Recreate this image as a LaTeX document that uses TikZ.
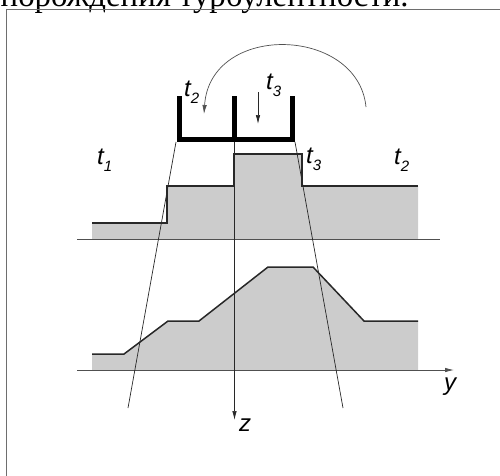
\documentclass[tikz,border=0pt]{standalone}
\usepackage{fontspec}
\usepackage{graphicx}
\setmainfont{Liberation Serif}
\newfontfamily\labfont{Liberation Sans}
\usetikzlibrary{arrows.meta}
\definecolor{fillgray}{RGB}{204,204,204}
\definecolor{outline}{RGB}{40,40,40}
\definecolor{framegray}{RGB}{110,110,110}
\definecolor{axisgray}{RGB}{80,80,80}
\newcommand\tlab[1]{t\raisebox{-0.3em}{\fontsize{15}{15}\selectfont #1}}
\begin{document}
\begin{tikzpicture}[x=1pt,y=-1pt,
  lab/.style={inner sep=0pt, anchor=base west, font=\labfont\itshape\fontsize{24}{24}\selectfont},
  profile/.style={draw=outline, line width=1.5pt, line join=miter},
  area/.style={fill=fillgray},
  axisline/.style={draw=axisgray, line width=0.8pt},
  ray/.style={draw=outline, line width=0.7pt},
  bucket/.style={draw=black, line width=5pt, line join=miter},
  tip/.style={-{Latex[length=9pt,width=4.5pt]}}]
\useasboundingbox (0,0) rectangle (500,475);
% cut caption
\node[inner sep=0pt, anchor=base west] (caption) at (0.5,6)
  {\resizebox{408pt}{!}{\fontsize{32}{32}\selectfont порождения турбулентности.}};
% frame
\draw[framegray, line width=1pt] (6.5,480) -- (6.5,9.5) -- (505,9.5);
% upper profile
\fill[area] (92,239) -- (92,223) -- (167,223) -- (167,186) -- (234,186) -- (234,154)
  -- (302,154) -- (302,186) -- (418,186) -- (418,239) -- cycle;
\draw[profile] (92,223) -- (167,223) -- (167,186) -- (234,186) -- (234,154)
  -- (302,154) -- (302,186) -- (418,186);
% lower profile
\fill[area] (92,370) -- (92,354) -- (124,354) -- (168,321) -- (199,321) -- (268,267)
  -- (313,267) -- (364,321) -- (418,321) -- (418,370) -- cycle;
\draw[profile] (92,354) -- (124,354) -- (168,321) -- (199,321) -- (268,267)
  -- (313,267) -- (364,321) -- (418,321);
% coordinates
\coordinate (ua) at (77,239);
\coordinate (ub) at (440,239);
\coordinate (la) at (77,370);
\coordinate (lb) at (454,370);
\coordinate (bl) at (176,142);
\coordinate (bm) at (234.5,140);
\coordinate (br) at (295,142);
\coordinate (el) at (128,408);
\coordinate (er) at (343,408);
\coordinate (ez) at (234.5,420);
% axes
\draw[axisline] (ua) -- (ub);
\draw[axisline, tip] (la) -- (lb);
\draw[ray] (bl) -- (el);
\draw[ray] (br) -- (er);
\draw[ray, tip] (bm) -- (ez);
% bucket
\draw[bucket] (179,96) -- (179,139) -- (292,139) -- (292,96);
\draw[bucket] (234.5,96) -- (234.5,139);
% arrows
\coordinate (as) at (366,107);
\coordinate (ae) at (204,114);
\draw[ray, draw=axisgray, tip] (as) .. controls (358,26) and (210,22) .. (ae);
\coordinate (ds) at (258,92);
\coordinate (de) at (258,124);
\draw[ray, tip] (ds) -- (de);
% labels
\node[lab] (t1) at (97,164) {\tlab{1}};
\node[lab] (t2a) at (184,96) {\tlab{2}};
\node[lab] (t3a) at (266,89) {\tlab{3}};
\node[lab] (t3b) at (306,163) {\tlab{3}};
\node[lab] (t2b) at (394,164) {\tlab{2}};
\node[lab] (zl) at (239,431) {z};
\node[lab] (yl) at (444,390) {y};
\end{tikzpicture}
\end{document}
